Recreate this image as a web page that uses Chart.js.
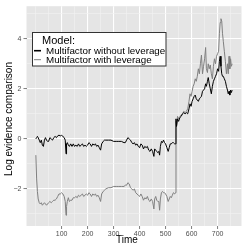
<!DOCTYPE html>
<html>
<head>
<meta charset="utf-8">
<script src="https://cdn.jsdelivr.net/npm/chart.js@4/dist/chart.umd.min.js"></script>
<style>
  html, body { margin: 0; padding: 0; background: #fff; }
  canvas { display: block; }
</style>
</head>
<body>
<canvas id="chart" width="249" height="249"></canvas>
<script>
// Data
const timeSteps = [1, 4, 7, 10, 14, 18, 22, 26, 30, 34, 38, 42, 46, 50, 55, 60, 65, 70, 75, 80, 85, 90, 95, 100, 105, 110, 114, 117, 119, 122, 126, 130, 135, 140, 145, 150, 155, 160, 165, 170, 175, 180, 185, 190, 195, 200, 205, 210, 215, 220, 225, 230, 235, 240, 245, 250, 254, 260, 265, 270, 280, 290, 300, 310, 320, 330, 340, 345, 350, 355, 360, 365, 370, 375, 380, 385, 390, 395, 400, 405, 410, 415, 420, 425, 430, 435, 440, 445, 450, 455, 458, 462, 466, 470, 474, 477, 480, 484, 488, 492, 496, 500, 505, 510, 514, 518, 522, 526, 530, 535, 538, 540, 542, 546, 550, 555, 560, 565, 570, 575, 580, 585, 590, 594, 598, 602, 606, 610, 614, 618, 622, 626, 630, 634, 638, 642, 646, 650, 654, 657, 661, 664, 668, 672, 676, 680, 684, 688, 692, 696, 700, 704, 707, 710, 713, 716, 719, 722, 726, 730, 734, 738, 741, 744, 747, 750, 753, 756];

const withoutLeverage = [0.0, 0.05, 0.1, 0.05, -0.05, -0.15, -0.05, -0.25, -0.3, -0.05, 0.05, -0.05, -0.1, -0.1, 0.05, 0.0, -0.05, 0.05, 0.1, 0.05, 0.12, 0.15, 0.12, 0.14, 0.1, 0.05, -0.05, -0.6, -0.2, -0.15, -0.25, -0.3, -0.2, -0.3, -0.2, -0.3, -0.25, -0.3, -0.2, -0.3, -0.25, -0.2, -0.3, -0.25, -0.3, -0.25, -0.15, -0.2, -0.3, -0.2, -0.25, -0.2, -0.3, -0.25, -0.35, -0.45, -0.2, -0.1, -0.05, -0.05, -0.05, -0.05, -0.1, -0.1, -0.1, -0.1, -0.15, -0.15, -0.05, 0.05, 0.0, -0.05, -0.15, -0.2, -0.15, -0.25, -0.2, -0.3, -0.35, -0.2, -0.25, -0.4, -0.3, -0.35, -0.3, -0.45, -0.5, -0.4, -0.5, -0.7, -0.4, -0.45, -0.5, -0.55, -0.5, -0.65, -0.3, -0.1, -0.15, -0.05, -0.15, -0.2, -0.35, -0.5, -0.35, -0.2, -0.2, -0.15, -0.15, -0.2, -0.2, 0.8, 0.5, 0.8, 0.7, 0.85, 0.9, 1.0, 1.05, 1.0, 1.05, 1.0, 1.2, 1.4, 1.3, 1.5, 1.6, 1.7, 1.75, 1.6, 1.55, 1.5, 1.6, 1.65, 1.7, 1.9, 1.95, 2.0, 2.2, 2.1, 2.3, 2.45, 2.2, 2.0, 1.8, 2.1, 2.3, 2.4, 2.5, 2.6, 2.8, 2.7, 3.1, 3.3, 2.9, 2.6, 2.5, 2.5, 2.4, 2.3, 2.1, 1.95, 1.8, 1.9, 1.75, 1.95, 1.85, 1.95];

const withLeverage = [-0.65, -1.6, -2.1, -2.4, -2.55, -2.6, -2.55, -2.65, -2.6, -2.55, -2.6, -2.65, -2.6, -2.55, -2.5, -2.55, -2.5, -2.45, -2.45, -2.4, -2.3, -2.2, -2.2, -2.15, -2.2, -2.3, -2.5, -3.05, -2.7, -2.5, -2.35, -2.5, -2.45, -2.45, -2.35, -2.35, -2.3, -2.35, -2.25, -2.3, -2.25, -2.2, -2.3, -2.25, -2.2, -2.25, -2.15, -2.2, -2.3, -2.2, -2.25, -2.2, -2.3, -2.25, -2.35, -2.5, -2.2, -2.1, -2.05, -2.0, -1.95, -1.95, -1.9, -1.9, -1.9, -1.9, -1.9, -1.85, -1.85, -1.75, -1.8, -1.95, -2.0, -2.05, -2.0, -2.15, -2.2, -2.25, -2.3, -2.2, -2.3, -2.45, -2.35, -2.4, -2.3, -2.45, -2.5, -2.4, -2.5, -2.8, -2.4, -2.3, -2.45, -2.5, -2.5, -2.85, -2.4, -2.15, -2.1, -2.15, -2.15, -2.2, -2.3, -2.5, -2.4, -2.3, -2.35, -2.25, -2.15, -2.2, -2.15, 0.7, 0.5, 0.9, 0.8, 0.9, 0.95, 1.0, 1.1, 1.05, 1.1, 1.2, 1.5, 1.8, 1.7, 1.9, 2.1, 2.2, 2.4, 2.3, 2.5, 2.8, 2.6, 3.0, 3.35, 2.6, 2.9, 3.2, 3.65, 2.8, 2.65, 3.0, 2.8, 2.95, 2.6, 2.4, 2.9, 3.2, 3.0, 3.3, 3.4, 3.5, 4.2, 4.65, 4.8, 4.7, 4.2, 3.9, 3.5, 3.1, 2.6, 3.0, 2.6, 3.3, 2.8, 3.2, 2.9, 3.0];

const seriesNames = ['Multifactor without leverage', 'Multifactor with leverage'];

// Axis breaks (ggplot style: major with labels, minor without)
const xMajor = [100, 200, 300, 400, 500, 600, 700];
const xMinor = [0, 50, 150, 250, 350, 450, 550, 650, 750];
const yMajor = [-2, 0, 2, 4];
const yMinor = [-3, -1, 1, 3, 5];
const yLabels = ['\u22122', '0', '2', '4'];

const FONT = '"Liberation Sans", Arial, sans-serif';

function toPoints(values) {
    return timeSteps.map((t, i) => ({ x: t, y: values[i] }));
}

// Grey panel behind the grid
const panelBackground = {
    id: 'panelBackground',
    beforeDraw(chart) {
        const a = chart.chartArea;
        const ctx = chart.ctx;
        ctx.save();
        ctx.fillStyle = '#E5E5E5';
        ctx.fillRect(a.left, a.top, a.right - a.left, a.bottom - a.top);
        ctx.restore();
    }
};

// Axis titles and the boxed legend inside the panel
const decorations = {
    id: 'decorations',
    afterDraw(chart) {
        const ctx = chart.ctx;
        ctx.save();

        ctx.fillStyle = '#000';
        ctx.font = '10px ' + FONT;
        ctx.textAlign = 'center';
        ctx.textBaseline = 'middle';
        ctx.fillText('Time', 127, 240);

        ctx.translate(9.5, 119);
        ctx.rotate(-Math.PI / 2);
        ctx.fillText('Log evidence comparison', 0, 0);
        ctx.setTransform(1, 0, 0, 1, 0, 0);

        // legend box
        ctx.fillStyle = '#fff';
        ctx.fillRect(32.5, 32.5, 133.5, 33.5);
        ctx.strokeStyle = '#333';
        ctx.lineWidth = 1;
        ctx.strokeRect(32.5, 32.5, 133.5, 33.5);

        ctx.fillStyle = '#000';
        ctx.textAlign = 'left';
        ctx.textBaseline = 'alphabetic';
        ctx.font = '11px ' + FONT;
        ctx.fillText('Model:', 42, 44);

        ctx.font = '9.8px ' + FONT;
        chart.data.datasets.forEach((ds, i) => {
            const y = 50.7 + i * 9;
            ctx.strokeStyle = ds.borderColor;
            ctx.lineWidth = i === 0 ? 1.6 : 1;
            ctx.beginPath();
            ctx.moveTo(34, y);
            ctx.lineTo(41, y);
            ctx.stroke();
            ctx.fillStyle = '#000';
            ctx.fillText(ds.label, 46, y + 3.6);
        });

        ctx.restore();
    }
};

const ctx = document.getElementById('chart').getContext('2d');

new Chart(ctx, {
    type: 'line',
    data: {
        datasets: [{
            label: seriesNames[0],
            data: toPoints(withoutLeverage),
            borderColor: '#000000',
            borderWidth: 1,
            pointRadius: 0,
            tension: 0
        }, {
            label: seriesNames[1],
            data: toPoints(withLeverage),
            borderColor: '#808080',
            borderWidth: 1,
            pointRadius: 0,
            tension: 0
        }]
    },
    options: {
        responsive: false,
        animation: false,
        layout: { padding: { left: 0, right: 7.5, top: 5, bottom: 0 } },
        plugins: {
            legend: { display: false },
            tooltip: { enabled: false }
        },
        scales: {
            x: {
                type: 'linear',
                min: -35,
                max: 792,
                afterBuildTicks: (scale) => {
                    scale.ticks = xMajor.concat(xMinor).sort((a, b) => a - b).map(v => ({ value: v }));
                },
                afterFit: (scale) => { scale.height = 23; },
                border: { display: false },
                grid: {
                    color: (c) => xMajor.includes(c.tick.value) ? '#FFFFFF' : '#F2F2F2',
                    lineWidth: (c) => xMajor.includes(c.tick.value) ? 1.1 : 0.6,
                    tickColor: (c) => xMajor.includes(c.tick.value) ? '#7F7F7F' : 'rgba(0,0,0,0)',
                    tickLength: 3,
                    tickWidth: 1
                },
                ticks: {
                    autoSkip: false,
                    maxRotation: 0,
                    padding: 1,
                    color: '#4D4D4D',
                    font: { family: FONT, size: 7 },
                    callback: (value) => xMajor.includes(value) ? String(value) : ''
                }
            },
            y: {
                type: 'linear',
                min: -3.48,
                max: 5.3,
                afterBuildTicks: (scale) => {
                    scale.ticks = yMajor.concat(yMinor).sort((a, b) => a - b).map(v => ({ value: v }));
                },
                afterFit: (scale) => { scale.width = 26.5; },
                border: { display: false },
                grid: {
                    color: (c) => yMajor.includes(c.tick.value) ? '#FFFFFF' : '#F2F2F2',
                    lineWidth: (c) => yMajor.includes(c.tick.value) ? 1.1 : 0.6,
                    tickColor: (c) => yMajor.includes(c.tick.value) ? '#7F7F7F' : 'rgba(0,0,0,0)',
                    tickLength: 3,
                    tickWidth: 1
                },
                ticks: {
                    autoSkip: false,
                    padding: 2,
                    color: '#4D4D4D',
                    font: { family: FONT, size: 7 },
                    callback: (value) => {
                        const k = yMajor.indexOf(value);
                        return k >= 0 ? yLabels[k] : '';
                    }
                }
            }
        }
    },
    plugins: [panelBackground, decorations]
});
</script>
</body>
</html>
